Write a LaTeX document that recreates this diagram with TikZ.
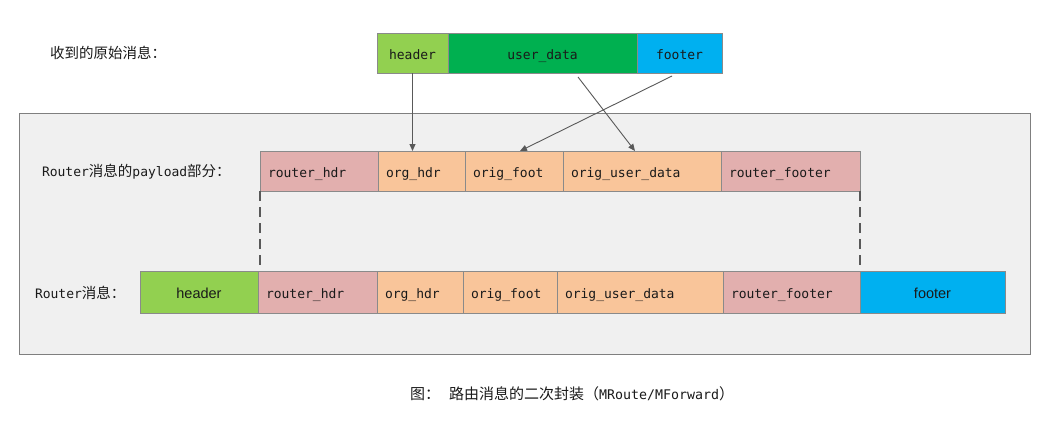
\documentclass[tikz,border=0pt]{standalone}
\usepackage{fontspec}
\setmonofont{DejaVu Sans Mono}
\newfontfamily\cjk{Noto Sans CJK SC}
\newfontfamily\arialf{Liberation Sans}
\usetikzlibrary{arrows.meta}
\definecolor{hdrgreen}{HTML}{92D050}
\definecolor{datagreen}{HTML}{00B050}
\definecolor{ftblue}{HTML}{00B0F0}
\definecolor{rpink}{HTML}{E2AFAE}
\definecolor{peach}{HTML}{F9C59A}
\definecolor{panelfill}{HTML}{F0F0F0}
\definecolor{panelline}{HTML}{7F7F7F}
\definecolor{cellline}{HTML}{8A8A8A}
\definecolor{arrline}{HTML}{595959}
\definecolor{txt}{HTML}{1A1A1A}
\tikzset{
  cell/.style={draw=cellline, line width=0.8pt, anchor=north west, inner xsep=8pt,
    inner ysep=0pt, outer sep=0pt, text=txt, text height=12pt, text depth=0pt,
    font=\ttfamily\fontsize{13}{15}\selectfont},
  sanscell/.style={font=\arialf\fontsize{14.5}{17}\selectfont},
  lbl/.style={inner sep=0pt, outer sep=0pt, text=txt, anchor=west,
    font=\ttfamily\fontsize{13}{15}\selectfont},
  panel/.style={draw=panelline, fill=panelfill, line width=0.8pt},
  arr/.style={draw=arrline, line width=0.9pt, -{Triangle[width=6pt,length=7pt]}},
  dashline/.style={draw=arrline, line width=1.8pt, dash pattern=on 10pt off 6pt}
}
\newcommand\zh[1]{{\cjk\fontsize{14.5}{16}\selectfont #1}}
% name, x1, y1, x2, y2, style, alignment (l/c), text
\newcommand\cellnode[8]{%
  \pgfmathsetmacro\cellw{#4-#2}%
  \pgfmathsetmacro\cellh{#5-#3}%
  \pgfmathsetmacro\celltw{#4-#2-16}%
  \node[cell,#6,minimum width=\cellw pt,minimum height=\cellh pt] (#1) at (#2,#3) {\makebox[\celltw pt][#7]{#8}};}
\begin{document}
\begin{tikzpicture}[x=1pt,y=-1pt]
\useasboundingbox[fill=white] (0,0) rectangle (1050,421);
% panel
\draw[panel] (19,113) rectangle (1030,354);
% top row
\cellnode{th}{377}{33}{448}{73}{fill=hdrgreen}{c}{header}
\cellnode{tu}{448}{33}{637}{73}{fill=datagreen}{c}{user\_data}
\cellnode{tf}{637}{33}{722}{73}{fill=ftblue}{c}{footer}
% payload row
\cellnode{pr}{260}{151}{378}{191}{fill=rpink}{l}{router\_hdr}
\cellnode{po}{378}{151}{465}{191}{fill=peach}{l}{org\_hdr}
\cellnode{pf}{465}{151}{563}{191}{fill=peach}{l}{orig\_foot}
\cellnode{pu}{563}{151}{721}{191}{fill=peach}{l}{orig\_user\_data}
\cellnode{pfo}{721}{151}{860}{191}{fill=rpink}{l}{router\_footer}
% router row
\cellnode{rh}{140}{271}{258}{313}{fill=hdrgreen,sanscell}{c}{header}
\cellnode{rr}{258}{271}{377}{313}{fill=rpink}{l}{router\_hdr}
\cellnode{ro}{377}{271}{463}{313}{fill=peach}{l}{org\_hdr}
\cellnode{rf}{463}{271}{557}{313}{fill=peach}{l}{orig\_foot}
\cellnode{ru}{557}{271}{723}{313}{fill=peach}{l}{orig\_user\_data}
\cellnode{rfo}{723}{271}{860}{313}{fill=rpink}{l}{router\_footer}
\cellnode{rft}{860}{271}{1005}{313}{fill=ftblue,sanscell}{c}{footer}
% labels
\node[lbl] (l1) at (50,53) {\zh{收到的原始消息：}};
\node[lbl] (l2) at (42,172) {Router\zh{消息的}payload\zh{部分：}};
\node[lbl] (l3) at (35,293) {Router\zh{消息：}};
\node[lbl,font=\ttfamily\fontsize{13.3}{15}\selectfont] (cap) at (410,394) {{\cjk\fontsize{15}{17}\selectfont 图：\hspace{9pt}路由消息的二次封装（}MRoute/MForward{\cjk\fontsize{15}{17}\selectfont ）}};
% arrows
\draw[arr] (th.south) -- (th.south |- po.north);
\draw[arr] ([xshift=130pt,yshift=-4pt]tu.south west) -- ([xshift=72pt]pu.north west);
\draw[arr] ([xshift=35pt,yshift=-3pt]tf.south west) -- ([xshift=55pt]pf.north west);
% dashed guides
\draw[dashline] (pr.south west) -- (pr.south west |- rr.north);
\draw[dashline] (pfo.south east) -- (rfo.north east);
\end{tikzpicture}
\end{document}
